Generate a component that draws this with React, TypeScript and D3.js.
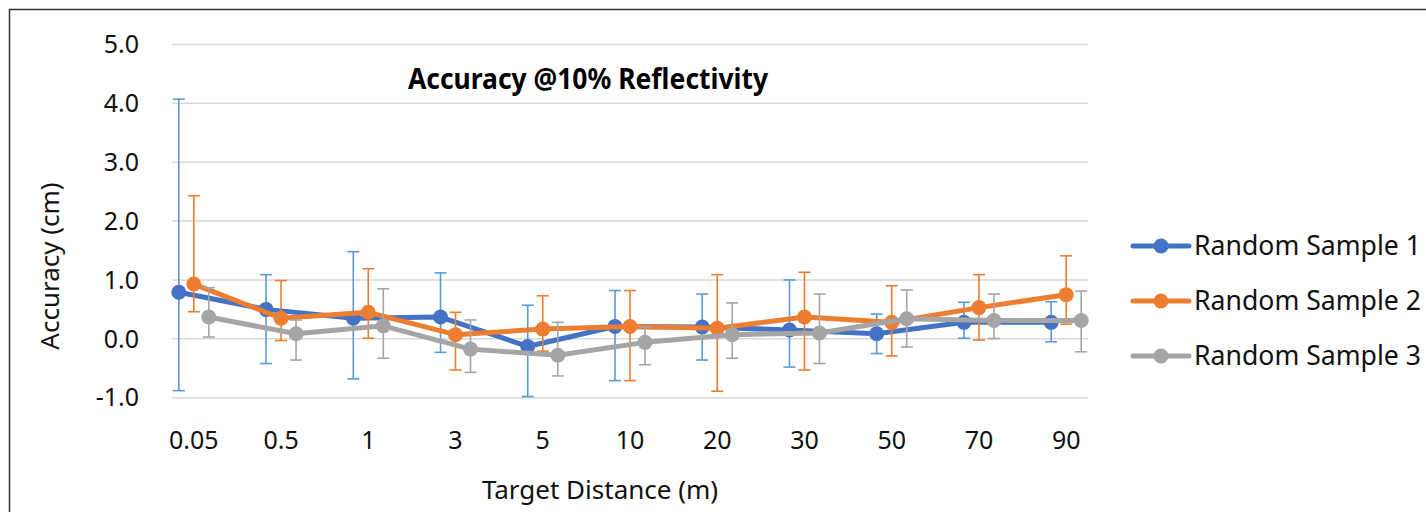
import React, { useRef, useEffect } from "react";
import * as d3 from "d3";

// Target distances (m)
const categories = ["0.05", "0.5", "1", "3", "5", "10", "20", "30", "50", "70", "90"];

// Random Sample 1: mean accuracy and error bar ends (cm)
const sample1 = [0.79, 0.5, 0.35, 0.37, -0.13, 0.21, 0.2, 0.15, 0.085, 0.28, 0.28];
const sample1Hi = [4.07, 1.09, 1.48, 1.12, 0.57, 0.82, 0.76, 1.0, 0.42, 0.62, 0.63];
const sample1Lo = [-0.88, -0.42, -0.68, -0.23, -0.98, -0.71, -0.36, -0.48, -0.25, 0.01, -0.05];

// Random Sample 2
const sample2 = [0.93, 0.35, 0.45, 0.07, 0.165, 0.21, 0.18, 0.37, 0.28, 0.53, 0.75];
const sample2Hi = [2.43, 0.99, 1.19, 0.45, 0.73, 0.82, 1.09, 1.13, 0.9, 1.09, 1.41];
const sample2Lo = [0.46, -0.03, 0.01, -0.53, -0.21, -0.71, -0.89, -0.53, -0.29, -0.02, 0.25];

// Random Sample 3
const sample3 = [0.37, 0.085, 0.22, -0.175, -0.28, -0.06, 0.07, 0.1, 0.34, 0.31, 0.31];
const sample3Hi = [0.87, 0.32, 0.85, 0.32, 0.28, 0.2, 0.61, 0.76, 0.83, 0.76, 0.81];
const sample3Lo = [0.03, -0.36, -0.33, -0.57, -0.63, -0.44, -0.33, -0.42, -0.14, 0.005, -0.22];

const yTicks = [-1, 0, 1, 2, 3, 4, 5];

interface Series {
  name: string;
  values: number[];
  hi: number[];
  lo: number[];
  color: string;
  errColor: string;
  offset: number; // fraction of a category step
}

const series: Series[] = [
  { name: "Random Sample 1", values: sample1, hi: sample1Hi, lo: sample1Lo, color: "#4472C4", errColor: "#5B9BD5", offset: -0.172 },
  { name: "Random Sample 2", values: sample2, hi: sample2Hi, lo: sample2Lo, color: "#ED7D31", errColor: "#ED7D31", offset: 0 },
  { name: "Random Sample 3", values: sample3, hi: sample3Hi, lo: sample3Lo, color: "#A5A5A5", errColor: "#A5A5A5", offset: 0.172 },
];

const App: React.FC = () => {
  const svgRef = useRef<SVGSVGElement>(null);

  useEffect(() => {
    const width = 1426;
    const height = 512;
    const left = 172;
    const right = 1088;
    const top = 44.4;
    const bottom = 397.7;
    const font = "'Noto Sans', sans-serif";

    const svg = d3.select(svgRef.current).attr("width", width).attr("height", height);
    svg.selectAll("*").remove();

    svg.append("rect").attr("width", width).attr("height", height).attr("fill", "#fff");
    // chart frame (runs off the right/bottom edge)
    svg
      .append("rect")
      .attr("x", 9.5)
      .attr("y", 9.5)
      .attr("width", width + 20)
      .attr("height", height + 20)
      .attr("fill", "none")
      .attr("stroke", "#333")
      .attr("stroke-width", 1.5);

    const x = d3.scalePoint<string>().domain(categories).range([left, right]).padding(0.25);
    const step = x.step();
    const y = d3.scaleLinear().domain([-1, 5]).range([bottom, top]);
    const fmt = (d: number) => d.toFixed(1);

    // gridlines
    svg
      .append("g")
      .selectAll("line")
      .data(yTicks)
      .join("line")
      .attr("x1", left)
      .attr("x2", right)
      .attr("y1", (d) => y(d))
      .attr("y2", (d) => y(d))
      .attr("stroke", "#D9D9D9")
      .attr("stroke-width", 1.5);

    // y tick labels
    svg
      .append("g")
      .selectAll("text")
      .data(yTicks)
      .join("text")
      .attr("x", 139)
      .attr("y", (d) => y(d))
      .attr("dy", "0.35em")
      .attr("text-anchor", "end")
      .attr("font-family", font)
      .attr("font-size", 25)
      .attr("fill", "#111")
      .text(fmt);

    // x tick labels
    svg
      .append("g")
      .selectAll("text")
      .data(categories)
      .join("text")
      .attr("x", (d) => x(d)!)
      .attr("y", 440)
      .attr("dy", "0.35em")
      .attr("text-anchor", "middle")
      .attr("font-family", font)
      .attr("font-size", 25)
      .attr("fill", "#111")
      .text((d) => d);

    // axis titles
    svg
      .append("text")
      .attr("x", 600)
      .attr("y", 490)
      .attr("dy", "0.35em")
      .attr("text-anchor", "middle")
      .attr("font-family", font)
      .attr("font-size", 26)
      .attr("fill", "#111")
      .text("Target Distance (m)");

    svg
      .append("text")
      .attr("transform", `translate(50,266) rotate(-90)`)
      .attr("dy", "0.35em")
      .attr("text-anchor", "middle")
      .attr("font-family", font)
      .attr("font-size", 26)
      .attr("fill", "#111")
      .text("Accuracy (cm)");

    // series
    series.forEach((s) => {
      const px = (i: number) => x(categories[i])! + s.offset * step;
      const g = svg.append("g");
      const idx = d3.range(categories.length);

      const err = g.append("g").attr("stroke", s.errColor).attr("stroke-width", 1.6).attr("fill", "none");
      err
        .selectAll("line.v")
        .data(idx)
        .join("line")
        .attr("class", "v")
        .attr("x1", px)
        .attr("x2", px)
        .attr("y1", (i) => y(s.hi[i]))
        .attr("y2", (i) => y(s.lo[i]));
      err
        .selectAll("line.t")
        .data(idx)
        .join("line")
        .attr("class", "t")
        .attr("x1", (i) => px(i) - 6)
        .attr("x2", (i) => px(i) + 6)
        .attr("y1", (i) => y(s.hi[i]))
        .attr("y2", (i) => y(s.hi[i]));
      err
        .selectAll("line.b")
        .data(idx)
        .join("line")
        .attr("class", "b")
        .attr("x1", (i) => px(i) - 6)
        .attr("x2", (i) => px(i) + 6)
        .attr("y1", (i) => y(s.lo[i]))
        .attr("y2", (i) => y(s.lo[i]));

      const line = d3
        .line<number>()
        .x((i) => px(i))
        .y((i) => y(s.values[i]));

      g.append("path")
        .attr("d", line(idx))
        .attr("fill", "none")
        .attr("stroke", s.color)
        .attr("stroke-width", 5)
        .attr("stroke-linejoin", "round");

      g.append("g")
        .selectAll("circle")
        .data(idx)
        .join("circle")
        .attr("cx", px)
        .attr("cy", (i) => y(s.values[i]))
        .attr("r", 7.5)
        .attr("fill", s.color);
    });

    // title
    svg
      .append("text")
      .attr("x", 408)
      .attr("y", 79)
      .attr("dy", "0.35em")
      .attr("font-family", font)
      .attr("font-size", 28)
      .attr("font-weight", "bold")
      .attr("textLength", 360)
      .attr("lengthAdjust", "spacingAndGlyphs")
      .attr("fill", "#000")
      .text("Accuracy @10% Reflectivity");

    // legend
    const legend = svg
      .append("g")
      .selectAll("g")
      .data(series)
      .join("g")
      .attr("transform", (_, i) => `translate(1133,${246 + i * 55})`);
    legend
      .append("line")
      .attr("x1", 0)
      .attr("x2", 56)
      .attr("stroke", (d) => d.color)
      .attr("stroke-width", 5)
      .attr("stroke-linecap", "round");
    legend
      .append("circle")
      .attr("cx", 28)
      .attr("r", 7.5)
      .attr("fill", (d) => d.color);
    legend
      .append("text")
      .attr("x", 61)
      .attr("dy", "0.35em")
      .attr("font-family", font)
      .attr("font-size", 26.5)
      .attr("textLength", 227)
      .attr("lengthAdjust", "spacingAndGlyphs")
      .attr("fill", "#111")
      .text((d) => d.name);
  }, []);

  return <svg ref={svgRef} style={{ position: "absolute", left: 0, top: 0 }}></svg>;
};

export default App;
